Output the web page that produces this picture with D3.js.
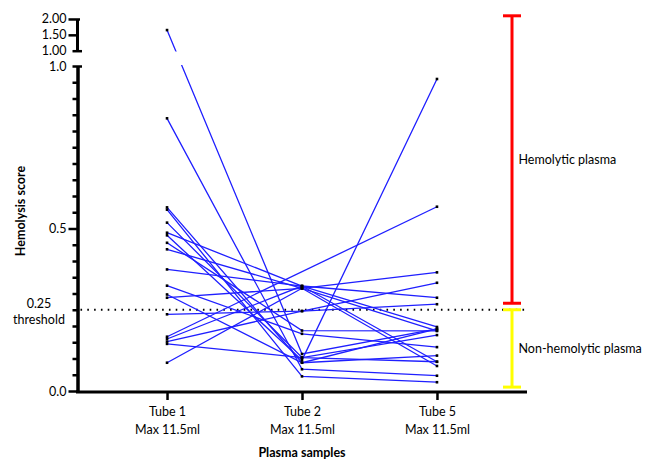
<!DOCTYPE html>
<html>
<head>
<meta charset="utf-8">
<script src="https://cdn.jsdelivr.net/npm/d3@7"></script>
<style>
  html, body { margin: 0; padding: 0; background: #fff; }
  text { font-family: Lato, "Open Sans", sans-serif; fill: #000; }
</style>
</head>
<body>
<script>
// ---- data ----
const tubes = ["Tube 1", "Tube 2", "Tube 5"];
const tubeSub = "Max 11.5ml";
const tube1 = [1.65, 0.839, 0.565, 0.558, 0.518, 0.487, 0.479, 0.456, 0.436, 0.374, 0.324, 0.297, 0.287, 0.236, 0.167, 0.160, 0.152, 0.145, 0.087];
const tube2 = [0.114, 0.067, 0.087, 0.045, 0.103, 0.323, 0.095, 0.186, 0.316, 0.323, 0.176, 0.087, 0.316, 0.246, null, 0.323, 0.246, 0.103, 0.316];
const tube5 = [0.191, 0.047, 0.109, 0.027, 0.172, 0.090, 0.960, 0.185, 0.077, 0.197, 0.135, 0.191, 0.185, 0.267, 0.567, 0.287, 0.333, 0.090, 0.365];
const lowerMajor = [0, 0.5, 1.0];
const lowerLabels = ["0.0", "0.5", "1.0"];
const upperMajor = [1.0, 1.5, 2.0];
const upperLabels = ["1.00", "1.50", "2.00"];
const threshold = 0.25;
const thresholdLabel = ["0.25", "threshold"];
const hemolyticRange = [0.27, 2.1];
const nonHemolyticRange = [0.012, 0.25];
const hemolyticLabel = "Hemolytic plasma";
const nonHemolyticLabel = "Non-hemolytic plasma";
const xTitle = "Plasma samples";
const yTitle = "Hemolysis score";

// ---- layout ----
const W = 646, H = 460;
const axisX = 77.5, axisY = 392;
const svg = d3.select("body").append("svg").attr("width", W).attr("height", H);

const x = d3.scalePoint().domain(tubes).range([77, 527]).padding(0.667);
const yLower = d3.scaleLinear().domain([0, 1]).range([391, 66]);
const yUpper = d3.scaleLinear().domain([1, 2.1]).range([50.7, 15.8]);
const yPos = v => v > 1 ? yUpper(v) : yLower(v);

const fs = "12.5px";

// ---- clip for break ----
const defs = svg.append("defs");
const clip = defs.append("clipPath").attr("id", "brk");
clip.append("rect").attr("x", 0).attr("y", 0).attr("width", W).attr("height", 51.5);
clip.append("rect").attr("x", 0).attr("y", 65).attr("width", W).attr("height", H - 65);

// ---- threshold dotted line ----
svg.append("line")
  .attr("x1", axisX + 3).attr("x2", 526)
  .attr("y1", yLower(threshold)).attr("y2", yLower(threshold))
  .attr("stroke", "#000").attr("stroke-width", 2)
  .attr("stroke-dasharray", "1.6,5.2");

// ---- sample lines ----
const samples = tube1.map((v, i) => [
  { t: tubes[0], v: v },
  { t: tubes[1], v: tube2[i] },
  { t: tubes[2], v: tube5[i] }
].filter(d => d.v !== null));

const line = d3.line().x(d => x(d.t)).y(d => yPos(d.v));
const gLines = svg.append("g").attr("clip-path", "url(#brk)");
gLines.selectAll("path").data(samples).join("path")
  .attr("d", line)
  .attr("fill", "none")
  .attr("stroke", "#1f1fff")
  .attr("stroke-width", 1.3);

const pts = samples.flat();
svg.append("g").selectAll("rect").data(pts).join("rect")
  .attr("x", d => x(d.t) - 1.3).attr("y", d => yPos(d.v) - 1.3)
  .attr("width", 2.6).attr("height", 2.6)
  .attr("fill", "#000");

// ---- axes ----
function styleAxis(g) {
  g.select(".domain").attr("stroke", "#000").attr("stroke-width", 3);
  g.selectAll(".tick line").attr("stroke", "#000").attr("stroke-width", 2.5);
  g.selectAll(".tick text").style("font-size", fs);
}

// lower y axis minor ticks
const minor = d3.range(0, 21).map(i => i * 0.05).filter(v => Math.abs(v * 2 - Math.round(v * 2)) > 1e-6);
svg.append("g").attr("transform", `translate(${axisX},0)`)
  .call(d3.axisLeft(yLower).tickValues(minor).tickSize(5).tickSizeOuter(0).tickFormat(""))
  .call(styleAxis);
// lower y axis majors
svg.append("g").attr("transform", `translate(${axisX},0)`)
  .call(d3.axisLeft(yLower).tickValues(lowerMajor).tickSize(9).tickSizeOuter(0).tickPadding(2)
    .tickFormat((d, i) => lowerLabels[i]))
  .call(styleAxis)
  .call(g => g.selectAll(".tick").filter(d => d === 1).select("line").attr("x1", -5).attr("x2", 4.5));

// upper y axis
const upperG = svg.append("g").attr("transform", `translate(${axisX},0)`)
  .call(d3.axisLeft(yUpper).tickValues(upperMajor).tickSize(9).tickSizeOuter(0).tickPadding(2)
    .tickFormat((d, i) => upperLabels[i]))
  .call(styleAxis);
upperG.select(".domain").attr("d", `M0,${yUpper(2)}V${yUpper(1)}`);
upperG.selectAll(".tick").filter(d => d === 1).select("line").attr("x1", -5).attr("x2", 4.5);
upperG.selectAll(".tick").filter(d => d === 2).select("line").attr("x1", -9).attr("x2", 2.5);

// threshold label
svg.append("text").attr("x", 39).attr("y", 308).attr("text-anchor", "middle")
  .style("font-size", fs).text(thresholdLabel[0]);
svg.append("text").attr("x", 39).attr("y", 324).attr("text-anchor", "middle")
  .style("font-size", fs).text(thresholdLabel[1]);

// x axis
const xg = svg.append("g").attr("transform", `translate(0,${axisY})`)
  .call(d3.axisBottom(x).tickSize(8).tickSizeOuter(0).tickFormat(""))
  .call(styleAxis);
xg.select(".domain").attr("d", "M76,0H527");
xg.selectAll(".tick").append("text")
  .attr("text-anchor", "middle").attr("y", 24).style("font-size", fs)
  .text(d => d);
xg.selectAll(".tick").append("text")
  .attr("text-anchor", "middle").attr("y", 42).style("font-size", fs)
  .text(tubeSub);

// titles
svg.append("text").attr("x", 302).attr("y", 457).attr("text-anchor", "middle")
  .style("font-size", fs).style("font-weight", "bold").text(xTitle);
svg.append("text").attr("transform", "translate(25,211) rotate(-90)")
  .attr("text-anchor", "middle")
  .style("font-size", fs).style("font-weight", "bold").text(yTitle);

// ---- brackets ----
const bx = 512, capW = 9;
function bracket(range, color, label) {
  const y0 = yPos(range[1]), y1 = yPos(range[0]);
  const g = svg.append("g").attr("stroke", color).attr("stroke-width", 3);
  g.append("line").attr("x1", bx).attr("x2", bx).attr("y1", y0).attr("y2", y1);
  g.append("line").attr("x1", bx - capW).attr("x2", bx + capW).attr("y1", y0).attr("y2", y0);
  g.append("line").attr("x1", bx - capW).attr("x2", bx + capW).attr("y1", y1).attr("y2", y1);
  svg.append("text").attr("x", bx + 6.5).attr("y", (y0 + y1) / 2 + 4.5)
    .style("font-size", fs).text(label);
}
bracket(hemolyticRange, "#ff0000", hemolyticLabel);
bracket(nonHemolyticRange, "#ffff00", nonHemolyticLabel);
</script>
</body>
</html>
